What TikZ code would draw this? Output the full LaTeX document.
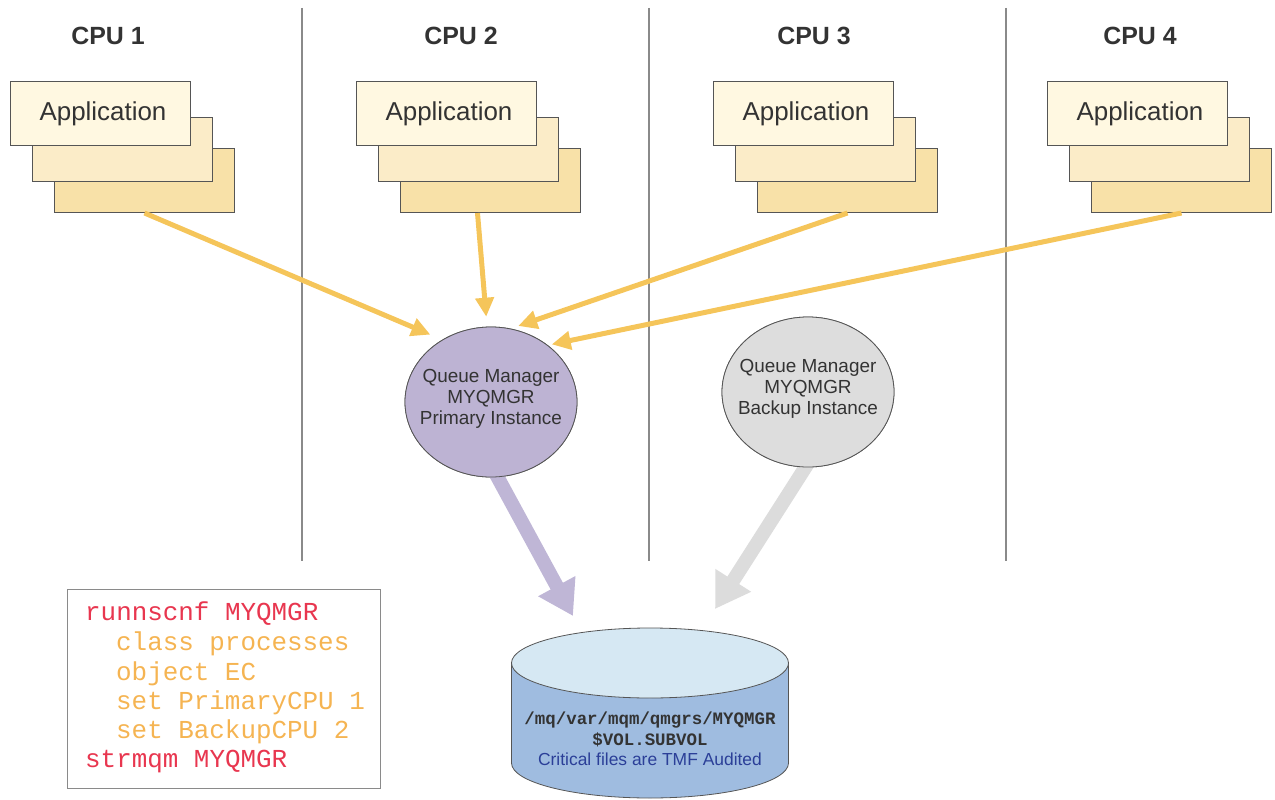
\documentclass[tikz,border=0pt]{standalone}
\usepackage{fontspec}
\setmainfont{Liberation Sans}
\setmonofont{Liberation Mono}
\usetikzlibrary{arrows.meta,calc,shapes.geometric}

\definecolor{ink}{HTML}{333333}
\definecolor{edge}{HTML}{555555}
\definecolor{appfront}{HTML}{FFF8E1}
\definecolor{appmid}{HTML}{FBECC8}
\definecolor{appback}{HTML}{F8E1A8}
\definecolor{feedcol}{HTML}{F5C55A}
\definecolor{primfill}{HTML}{BDB3D3}
\definecolor{primarrow}{HTML}{BFB6D6}
\definecolor{backfill}{HTML}{DDDDDD}
\definecolor{backarrow}{HTML}{DCDCDC}
\definecolor{disktop}{HTML}{D6E8F3}
\definecolor{diskbody}{HTML}{9FBCE0}
\definecolor{diskblue}{HTML}{2B3F98}
\definecolor{codered}{HTML}{E8364F}
\definecolor{codeorange}{HTML}{F5B452}
\definecolor{divcol}{HTML}{8A8A8A}

\tikzset{
  appbox/.style={draw=edge, line width=1bp, minimum width=180bp, minimum height=64bp,
    inner sep=0pt, anchor=north west, text=ink, font=\fontsize{26}{30}\selectfont},
  cpulabel/.style={text=ink, font=\fontsize{25}{30}\selectfont\bfseries},
  qm/.style={ellipse, draw=edge, line width=0.8bp, minimum width=172bp, minimum height=150bp, inner sep=0pt},
  qmtext/.style={align=center, text=ink, font=\fontsize{19}{21}\selectfont},
  feed/.style={draw=feedcol, line width=5bp, -{Triangle[width=18bp,length=19bp]}},
  bigarrow/.style={line width=14bp, -{Triangle[width=40bp,length=34bp]}},
  divider/.style={draw=divcol, line width=1.4bp},
  codeline/.style={anchor=base west, inner sep=0pt, font=\fontsize{26}{30}\ttfamily},
}

\newcommand\appstack[2]{%
  \node[appbox, fill=appback] (#1c) at (#2+44,148) {};
  \node[appbox, fill=appmid]  (#1b) at (#2+22,117) {};
  \node[appbox, fill=appfront] (#1) at (#2,81) {\hspace*{5bp}Application};
}

\begin{document}
\begin{tikzpicture}[x=1bp,y=-1bp]
\useasboundingbox (0,0) rectangle (1275,800);

% column dividers
\draw[divider] (302,8) -- (302,561);
\draw[divider] (649,8) -- (649,561);
\draw[divider] (1006,8) -- (1006,561);

% CPU headings
\node[cpulabel] (cpu1) at (108,36) {CPU 1};
\node[cpulabel] (cpu2) at (461,36) {CPU 2};
\node[cpulabel] (cpu3) at (814,36) {CPU 3};
\node[cpulabel] (cpu4) at (1140,36) {CPU 4};

% application stacks
\appstack{app1}{10}
\appstack{app2}{356}
\appstack{app3}{713}
\appstack{app4}{1047}

% queue manager instances
\coordinate (ptip) at (573,616);
\coordinate (btip) at (715,609);
\path (491,402) coordinate (pc) (808,392) coordinate (bc);
\node[qm] (primary) at (pc) {};
\node[qm] (backup) at (bc) {};
\draw[bigarrow, draw=primarrow] ($(primary.-85)!-12bp!(ptip)$) -- (ptip);
\draw[bigarrow, draw=backarrow] ($(backup.-92)!-12bp!(btip)$) -- (btip);
\node[qm, fill=primfill] (primaryfill) at (pc) {};
\node[qm, fill=backfill] (backupfill) at (bc) {};
\node[qmtext] (primarytext) at ([yshift=3bp]primary.center) {Queue Manager\\MYQMGR\\Primary Instance};
\node[qmtext] (backuptext) at ([yshift=3bp]backup.center) {Queue Manager\\MYQMGR\\Backup Instance};

% application connections
\draw[feed, shorten >=13bp] (app1c.south) -- (primary.128);
\draw[feed, shorten >=10bp] ([xshift=-13bp]app2c.south) -- (primary.93);
\draw[feed, shorten >=8bp] (app3c.south) -- (primary.75);
\draw[feed, shorten >=4bp] (app4c.south) -- (primary.45);

% shared disk
\fill[diskbody, draw=edge, line width=0.8bp] (650,763) ellipse [x radius=138.5, y radius=35];
\fill[diskbody] (511.5,663) rectangle (788.5,763);
\draw[edge, line width=0.8bp] (511.5,663) -- (511.5,763) (788.5,663) -- (788.5,763);
\fill[disktop, draw=edge, line width=0.8bp] (650,663) ellipse [x radius=138.5, y radius=35];
\node[align=center, inner sep=0pt, font=\fontsize{17.5}{20.5}\selectfont] (disk) at (650,739)
  {{\ttfamily\bfseries\color{ink}/mq/var/mqm/qmgrs/MYQMGR}\\
   {\ttfamily\bfseries\color{ink}\$VOL.SUBVOL}\\
   {\color{diskblue}Critical files are TMF Audited}};

% configuration commands
\node[draw=divcol, line width=1bp, minimum width=313bp, minimum height=199bp, anchor=north west] (code) at (67,589) {};
\node[codeline, text=codered]    (c1) at (85,620)    {runnscnf MYQMGR};
\node[codeline, text=codeorange] (c2) at (116,650.5) {class processes};
\node[codeline, text=codeorange] (c3) at (116,680.5) {object EC};
\node[codeline, text=codeorange] (c4) at (116,709.5) {set PrimaryCPU 1};
\node[codeline, text=codeorange] (c5) at (116,738.5) {set BackupCPU 2};
\node[codeline, text=codered]    (c6) at (85,767.5)  {strmqm MYQMGR};
\end{tikzpicture}
\end{document}
